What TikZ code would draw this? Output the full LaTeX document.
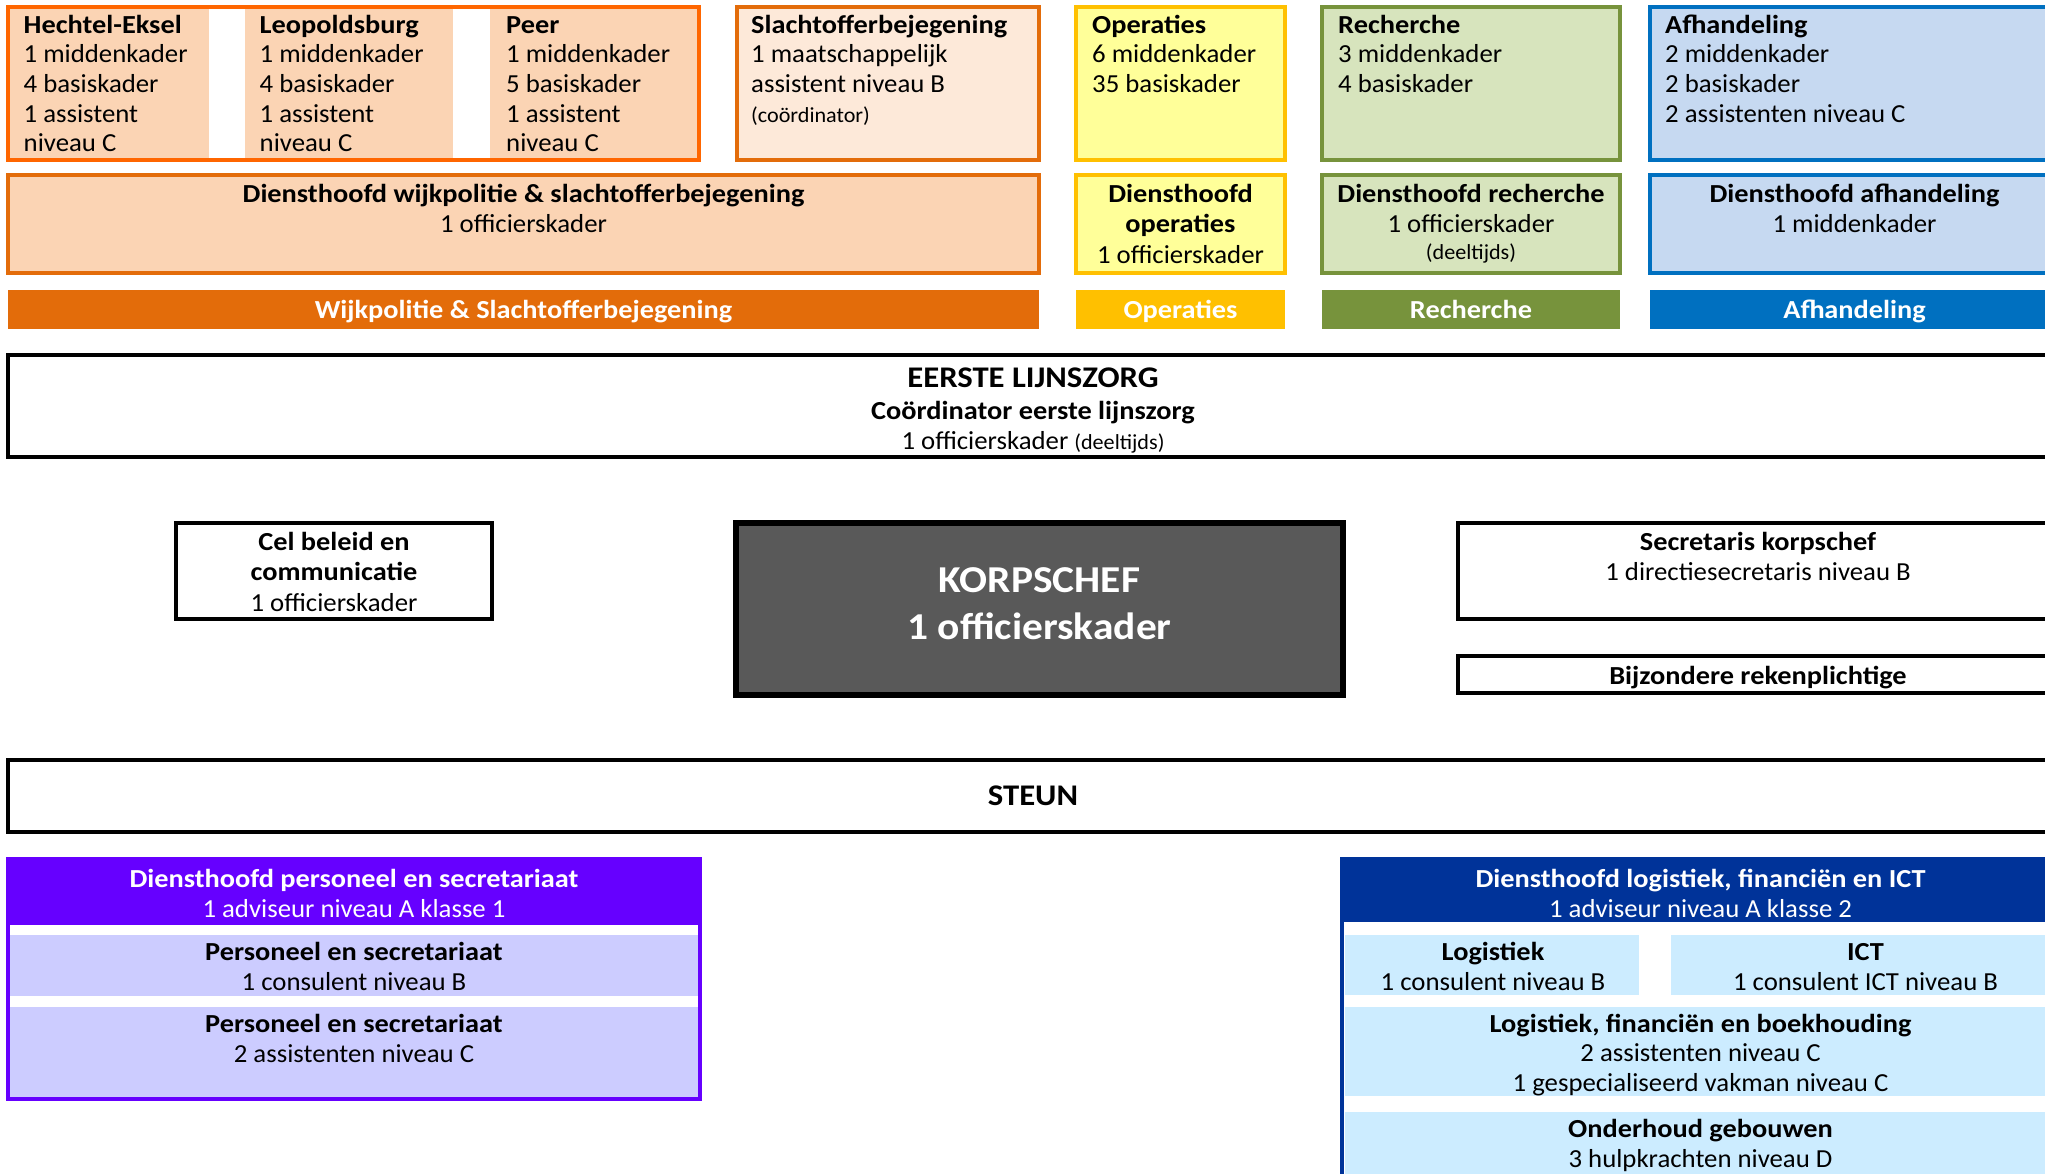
\documentclass[tikz,border=0pt]{standalone}
\usepackage{fontspec}
\setmainfont{Carlito}[FakeStretch=1.03, BoldFeatures={FakeStretch=1.09}]
\usetikzlibrary{fit}
\definecolor{orBright}{HTML}{FF6600}
\definecolor{orDark}{HTML}{E36C0A}
\definecolor{orFill}{HTML}{FBD4B4}
\definecolor{orLight}{HTML}{FDE9D9}
\definecolor{opLine}{HTML}{FFC000}
\definecolor{opFill}{HTML}{FFFF99}
\definecolor{reLine}{HTML}{77933C}
\definecolor{reFill}{HTML}{D7E4BD}
\definecolor{afLine}{HTML}{0070C0}
\definecolor{afFill}{HTML}{C6D9F1}
\definecolor{korps}{HTML}{595959}
\definecolor{peLine}{HTML}{6600FF}
\definecolor{peFill}{HTML}{CCCCFF}
\definecolor{loLine}{HTML}{003399}
\definecolor{loFill}{HTML}{CCECFF}
\newcommand{\lft}[1]{\begin{tabular}[t]{@{}l@{}}#1\end{tabular}}
\newcommand{\ctr}[1]{\begin{tabular}[t]{@{}c@{}}#1\end{tabular}}
\newcommand{\smallpar}[1]{{\fontsize{21.5}{22}\selectfont #1}}
\begin{document}
\begin{tikzpicture}[x=1pt,y=-1pt,
  rect/.style={inner sep=0pt, outer sep=0pt, line width=3.5pt},
  blk/.style={rect, draw=black, line width=4pt},
  t/.style={inner sep=0pt, font=\fontsize{26}{29.7}\selectfont},
  tc/.style={inner sep=0pt, anchor=base, font=\fontsize{26}{30.5}\selectfont},
  tl/.style={t, anchor=base west}]
\useasboundingbox (0,0) rectangle (2045,1173);
\clip (0,0) rectangle (2045,1173);

% ---------- Row 1 ----------
\node[rect, fill=white, fit={(8,6.5) (699,160)}] (hechtelbg) {};
\node[rect, fill=orFill, fit={(10,9) (209,158)}] (hechtelF) {};
\node[rect, fill=orFill, fit={(245,9) (453,158)}] (leopF) {};
\node[rect, fill=orFill, fit={(490,9) (697,158)}] (peerF) {};
\node[rect, draw=orBright, line width=4pt, fit={(8,6.5) (699,160)}] (hechtel) {};
\node[rect, draw=orDark, fill=orLight, line width=4pt, fit={(737,6.5) (1039,160)}] (slacht) {};
\node[rect, draw=opLine, fill=opFill, line width=4pt, fit={(1076,6.5) (1285,160)}] (oper) {};
\node[rect, draw=reLine, fill=reFill, line width=4pt, fit={(1322,6.5) (1620,160)}] (rech) {};
\node[rect, draw=afLine, fill=afFill, line width=4pt, fit={(1650,6.5) (2060,160)}] (afh) {};

\node[tl] (hechtelT) at (23.5,33) {\lft{\textbf{Hechtel-Eksel}\\1 middenkader\\4 basiskader\\1 assistent\\niveau C}};
\node[tl] (leopT) at (259.5,33) {\lft{\textbf{Leopoldsburg}\\1 middenkader\\4 basiskader\\1 assistent\\niveau C}};
\node[tl] (peerT) at (506,33) {\lft{\textbf{Peer}\\1 middenkader\\5 basiskader\\1 assistent\\niveau C}};
\node[tl] (slachtT) at (751,33) {\lft{\textbf{Slachtofferbejegening}\\1 maatschappelijk\\assistent niveau B\\\smallpar{(coördinator)}}};
\node[tl] (operT) at (1092,33) {\lft{\textbf{Operaties}\\6 middenkader\\35 basiskader}};
\node[tl] (rechT) at (1338,33) {\lft{\textbf{Recherche}\\3 middenkader\\4 basiskader}};
\node[tl] (afhT) at (1665,33) {\lft{\textbf{Afhandeling}\\2 middenkader\\2 basiskader\\2 assistenten niveau C}};

% ---------- Row 2 ----------
\node[rect, draw=orDark, fill=orFill, line width=4pt, fit={(8,175) (1039,273)}] (dhWijk) {};
\node[rect, draw=opLine, fill=opFill, line width=4pt, fit={(1076,175) (1285,273)}] (dhOper) {};
\node[rect, draw=reLine, fill=reFill, line width=4pt, fit={(1322,175) (1620,273)}] (dhRech) {};
\node[rect, draw=afLine, fill=afFill, line width=4pt, fit={(1650,175) (2060,273)}] (dhAfh) {};

\node[tc] (dhWijkT) at (523.5,202) {\ctr{\textbf{Diensthoofd wijkpolitie \& slachtofferbejegening}\\1 officierskader}};
\node[tc] (dhOperT) at (1180.5,202) {\ctr{\textbf{Diensthoofd}\\\textbf{operaties}\\1 officierskader}};
\node[tc] (dhRechT) at (1471,202) {\ctr{\textbf{Diensthoofd recherche}\\1 officierskader\\[-4pt]\smallpar{(deeltijds)}}};
\node[tc] (dhAfhT) at (1854.5,202) {\ctr{\textbf{Diensthoofd afhandeling}\\1 middenkader}};

% ---------- Bars ----------
\node[rect, fill=orDark, fit={(8,290) (1039,329)}] (barWijk) {};
\node[rect, fill=opLine, fit={(1076,290) (1285,329)}] (barOper) {};
\node[rect, fill=reLine, fit={(1322,290) (1620,329)}] (barRech) {};
\node[rect, fill=afLine, fit={(1650,290) (2060,329)}] (barAfh) {};
\node[tc, text=white] (barWijkT) at (523.5,318.5) {\textbf{Wijkpolitie \& Slachtofferbejegening}};
\node[tc, text=white] (barOperT) at (1180.5,318.5) {\textbf{Operaties}};
\node[tc, text=white] (barRechT) at (1471,318.5) {\textbf{Recherche}};
\node[tc, text=white] (barAfhT) at (1854.5,318.5) {\textbf{Afhandeling}};

% ---------- Eerste lijnszorg ----------
\node[blk, fit={(8,355) (2060,456.5)}] (eerste) {};
\node[tc, font=\fontsize{30}{32}\selectfont\bfseries] (eersteT1) at (1033,387.5) {EERSTE LIJNSZORG};
\node[tc, font=\fontsize{26}{30}\selectfont\bfseries] (eersteT2) at (1033,419.5) {Coördinator eerste lijnszorg};
\node[tc] (eersteT3) at (1033,449.5) {1 officierskader \smallpar{(deeltijds)}};

% ---------- Middle ----------
\node[blk, fit={(176,523) (492,619)}] (cel) {};
\node[tc] (celT) at (334,550) {\ctr{\textbf{Cel beleid en}\\\textbf{communicatie}\\1 officierskader}};

\node[rect, draw=black, fill=korps, line width=6pt, fit={(736,523) (1343,695)}] (korpschef) {};
\node[tc, text=white, font=\fontsize{38}{47}\selectfont\bfseries] (korpschefT) at (1039.5,592) {\ctr{KORPSCHEF\\1 officierskader}};

\node[blk, fit={(1458,523) (2060,619)}] (secr) {};
\node[tc] (secrT) at (1758,550) {\ctr{\textbf{Secretaris korpschef}\\1 directiesecretaris niveau B}};
\node[blk, fit={(1458,656) (2060,693)}] (bijz) {};
\node[tc] (bijzT) at (1758,684.5) {\textbf{Bijzondere rekenplichtige}};

% ---------- Steun ----------
\node[blk, fit={(8,760) (2060,832)}] (steun) {};
\node[tc, font=\fontsize{30}{32}\selectfont\bfseries] (steunT) at (1033,805) {STEUN};

% ---------- Personeel ----------
\node[rect, fill=white, fit={(8,859) (700,1099)}] (persbg) {};
\node[rect, fill=peLine, fit={(8,859) (700,925)}] (persHead) {};
\node[rect, fill=peFill, fit={(10,935) (698,996)}] (pers1) {};
\node[rect, fill=peFill, fit={(10,1007) (698,1097)}] (pers2) {};
\node[rect, draw=peLine, line width=4pt, fit={(8,859) (700,1099)}] (pers) {};
\node[tc, text=white] (persHeadT) at (354,887) {\ctr{\textbf{Diensthoofd personeel en secretariaat}\\1 adviseur niveau A klasse 1}};
\node[tc] (pers1T) at (354,960) {\ctr{\textbf{Personeel en secretariaat}\\1 consulent niveau B}};
\node[tc] (pers2T) at (354,1032) {\ctr{\textbf{Personeel en secretariaat}\\2 assistenten niveau C}};

% ---------- Logistiek ----------
\node[rect, fill=white, fit={(1342,859) (2060,1190)}] (logbg) {};
\node[rect, fill=loLine, fit={(1342,859) (2060,922)}] (logHead) {};
\node[rect, fill=loFill, fit={(1345,935) (1639,995)}] (logA) {};
\node[rect, fill=loFill, fit={(1671,935) (2060,995)}] (ict) {};
\node[rect, fill=loFill, fit={(1345,1007) (2060,1096)}] (lfb) {};
\node[rect, fill=loFill, fit={(1345,1112) (2060,1190)}] (onderh) {};
\node[rect, draw=loLine, line width=4pt, fit={(1342,859) (2060,1190)}] (logist) {};
\node[tc, text=white] (logHeadT) at (1700.5,887) {\ctr{\textbf{Diensthoofd logistiek, financiën en ICT}\\1 adviseur niveau A klasse 2}};
\node[tc] (logAT) at (1493,960) {\ctr{\textbf{Logistiek}\\1 consulent niveau B}};
\node[tc] (ictT) at (1865.5,960) {\ctr{\textbf{ICT}\\1 consulent ICT niveau B}};
\node[tc, font=\fontsize{26}{29.5}\selectfont] (lfbT) at (1700.5,1032) {\ctr{\textbf{Logistiek, financiën en boekhouding}\\2 assistenten niveau C\\1 gespecialiseerd vakman niveau C}};
\node[tc] (onderhT) at (1700.5,1137) {\ctr{\textbf{Onderhoud gebouwen}\\3 hulpkrachten niveau D}};
\end{tikzpicture}
\end{document}
